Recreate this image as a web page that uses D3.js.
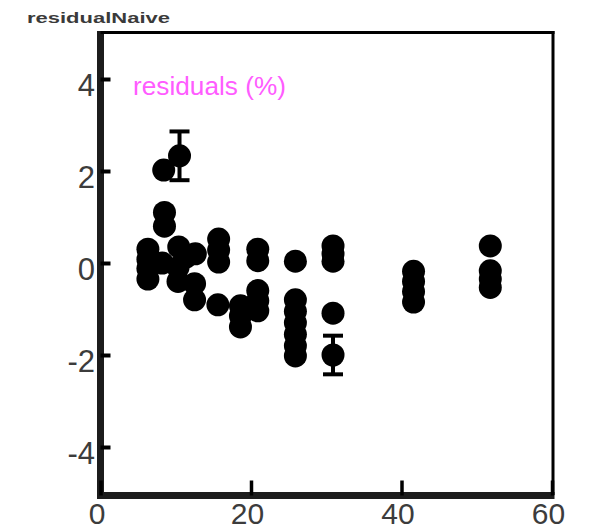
<!DOCTYPE html>
<html>
<head>
<meta charset="utf-8">
<script src="https://cdn.jsdelivr.net/npm/d3@7"></script>
<style>
  html, body { margin: 0; padding: 0; background: #fff; }
  svg { display: block; }
</style>
</head>
<body>
<svg id="chart" width="601" height="531"></svg>
<script>
// Residuals of the naive model, by dose level
const residualX = [
  6.3, 6.3, 6.3, 6.3,
  8.5, 8.5, 8.4,
  10.4, 8.2, 10.3, 10.3, 11.3,
  12.6, 12.5, 12.5,
  15.6, 15.7, 15.7, 15.7,
  18.6, 18.6, 18.6,
  20.9, 20.9, 20.9, 20.9, 20.9,
  25.9, 25.9, 25.9, 25.9, 25.9, 25.9, 25.9,
  30.9, 30.9, 30.9, 30.9,
  41.6, 41.6, 41.6, 41.6,
  51.8, 51.8, 51.8, 51.8
];
const residualY = [
  0.3, 0.08, -0.12, -0.35,
  1.1, 0.8, 2.02,
  0.35, 0.0, -0.1, -0.4, 0.12,
  0.2, -0.45, -0.8,
  -0.91, 0.52, 0.28, 0.02,
  -0.93, -1.15, -1.39,
  0.3, 0.05, -0.6, -0.82, -1.04,
  0.04, -0.8, -1.05, -1.3, -1.55, -1.8, -2.02,
  0.37, 0.2, 0.04, -1.09,
  -0.18, -0.4, -0.62, -0.85,
  0.37, -0.17, -0.35, -0.53
];

// Points carrying an error bar
const errX = [10.5, 30.9];
const errY = [2.33, -2.0];
const errHalf = [0.53, 0.42];

const xTicks = [0, 20, 40, 60];
const yTicks = [-4, -2, 0, 2, 4];
const titleText = "residualNaive";
const legendText = "residuals (%)";

const svg = d3.select("#chart");

const x = d3.scaleLinear().domain([0, 60]).range([100.5, 552]);
const y = d3.scaleLinear().domain([-5, 5]).range([493, 33]);

// Title
svg.append("text")
  .attr("x", 27).attr("y", 23)
  .attr("font-family", "Liberation Sans, Arial, sans-serif")
  .attr("font-weight", "bold")
  .attr("font-size", 15)
  .attr("textLength", 143)
  .attr("lengthAdjust", "spacingAndGlyphs")
  .attr("fill", "#3a3a3a")
  .text(titleText);

// Frame: heavy left/bottom axes, thin top/right border
const x0 = x.range()[0], x1 = x.range()[1];
const yTop = y(5), yBot = y(-5);
svg.append("line")
  .attr("x1", x0).attr("x2", x0).attr("y1", yTop - 2).attr("y2", yBot + 6)
  .attr("stroke", "#1c1c1c").attr("stroke-width", 7);
svg.append("line")
  .attr("x1", x0 - 3.5).attr("x2", x1 + 2.5).attr("y1", yBot + 2.5).attr("y2", yBot + 2.5)
  .attr("stroke", "#1c1c1c").attr("stroke-width", 7);
svg.append("line")
  .attr("x1", x0).attr("x2", x1 + 2.5).attr("y1", yTop - 0.5).attr("y2", yTop - 0.5)
  .attr("stroke", "#000").attr("stroke-width", 3);
svg.append("line")
  .attr("x1", x1 + 1).attr("x2", x1 + 1).attr("y1", yTop - 2).attr("y2", yBot + 2)
  .attr("stroke", "#000").attr("stroke-width", 3);

// Axes
const labelFont = "Liberation Sans, Arial, sans-serif";
const plainFormat = d => String(d);

const gx = svg.append("g")
  .attr("transform", `translate(0,${yBot + 2.5})`)
  .call(d3.axisBottom(x).tickValues(xTicks).tickFormat(plainFormat)
    .tickSizeInner(-15).tickSizeOuter(0));
gx.select(".domain").remove();
gx.selectAll(".tick line").attr("stroke", "#000").attr("stroke-width", 3.5);
gx.selectAll(".tick text")
  .attr("y", 28.5).attr("dy", null).attr("dx", -4)
  .attr("font-family", labelFont).attr("font-size", 30)
  .attr("fill", "#3c3c3c");

const gy = svg.append("g")
  .attr("transform", `translate(${x0},0)`)
  .call(d3.axisLeft(y).tickValues(yTicks).tickFormat(plainFormat)
    .tickSizeInner(-10).tickSizeOuter(0));
gy.select(".domain").remove();
gy.selectAll(".tick line").attr("stroke", "#000").attr("stroke-width", 4);
gy.selectAll(".tick text")
  .attr("x", -5.5).attr("y", 16).attr("dy", null)
  .attr("text-anchor", "end")
  .attr("font-family", labelFont).attr("font-size", 31)
  .attr("fill", "#3c3c3c");

// Legend label
svg.append("text")
  .attr("x", 133).attr("y", 95)
  .attr("font-family", labelFont)
  .attr("font-size", 25)
  .attr("textLength", 153)
  .attr("lengthAdjust", "spacingAndGlyphs")
  .attr("fill", "#ff5cff")
  .text(legendText);

// Error bars
const eb = svg.append("g").attr("stroke", "#000").attr("stroke-width", 4);
errX.forEach((ex, i) => {
  const cx = x(ex);
  const hi = y(errY[i] + errHalf[i]);
  const lo = y(errY[i] - errHalf[i]);
  eb.append("line").attr("x1", cx).attr("x2", cx).attr("y1", hi).attr("y2", lo);
  eb.append("line").attr("x1", cx - 10).attr("x2", cx + 10).attr("y1", hi).attr("y2", hi);
  eb.append("line").attr("x1", cx - 10).attr("x2", cx + 10).attr("y1", lo).attr("y2", lo);
});

// Points
const pts = residualX.map((v, i) => ({ x: v, y: residualY[i] }))
  .concat(errX.map((v, i) => ({ x: v, y: errY[i] })));
svg.append("g").selectAll("circle")
  .data(pts)
  .join("circle")
  .attr("cx", d => x(d.x))
  .attr("cy", d => y(d.y))
  .attr("r", 11.5)
  .attr("fill", "#000");
</script>
</body>
</html>
